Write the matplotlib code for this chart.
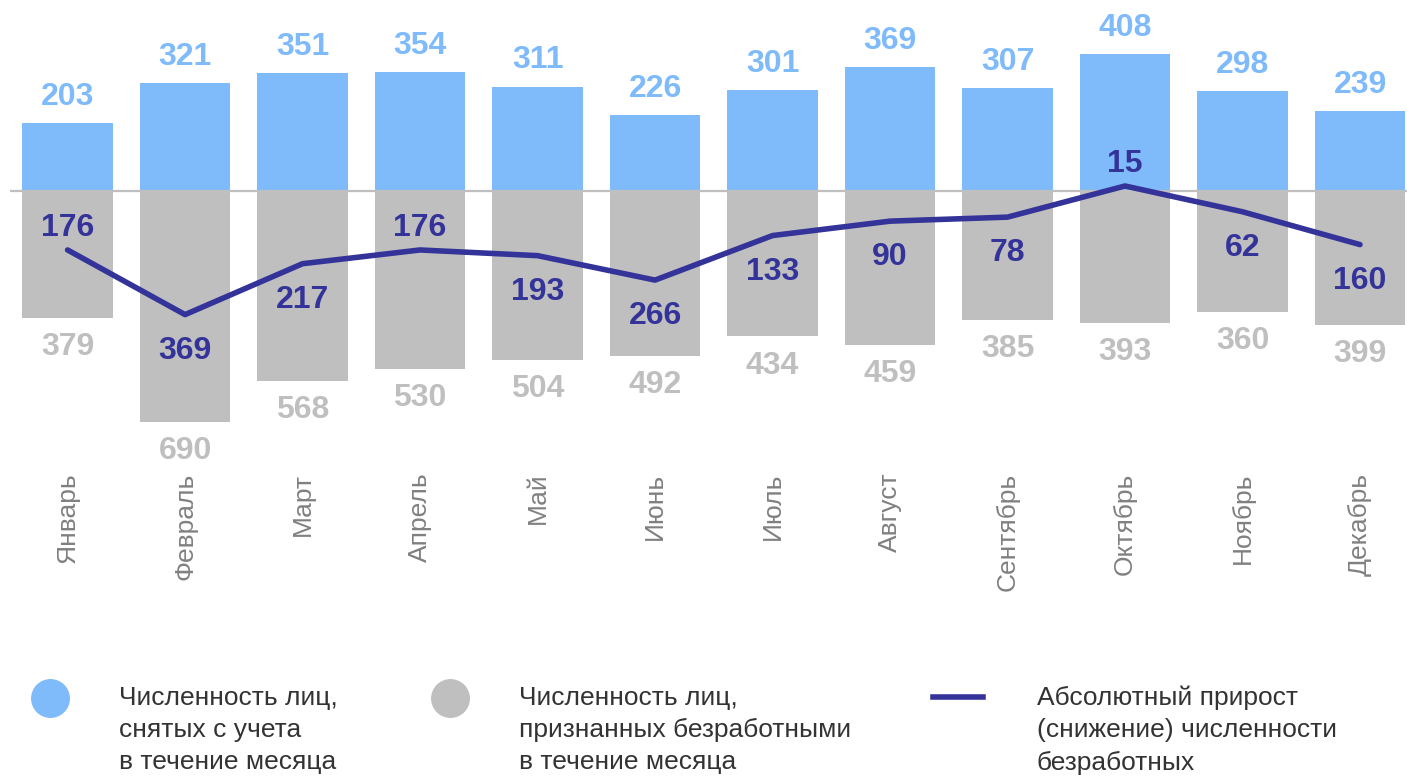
import matplotlib.pyplot as plt
from matplotlib.lines import Line2D
import numpy as np

plt.rcParams['font.family'] = ['Liberation Sans', 'DejaVu Sans']

months = ["Январь", "Февраль", "Март", "Апрель", "Май", "Июнь",
          "Июль", "Август", "Сентябрь", "Октябрь", "Ноябрь", "Декабрь"]
removed = [203, 321, 351, 354, 311, 226, 301, 369, 307, 408, 298, 239]
recognized = [379, 690, 568, 530, 504, 492, 434, 459, 385, 393, 360, 399]
# where to put the net-change label relative to the line
net_label_side = ["above", "below", "below", "above", "below", "below",
                  "below", "below", "below", "above", "below", "below"]

legend_labels = ["Численность лиц,\nснятых с учета\nв течение месяца",
                 "Численность лиц,\nпризнанных безработными\nв течение месяца",
                 "Абсолютный прирост\n(снижение) численности\nбезработных"]

blue = "#7fbafa"
gray = "#bfbfbf"
navy = "#333399"

removed = np.array(removed)
recognized = np.array(recognized)
net = removed - recognized
x = np.arange(len(months))

W, H = 1407, 776
fig = plt.figure(figsize=(W / 100, H / 100), dpi=100)
# axes: from x=10px to right edge, from top to y=470px
ax = fig.add_axes([10 / W, 1 - 470 / H, 1 - 10 / W, 470 / H])
k = 0.335  # px per unit
ax.set_ylim(-(470 - 191) / k, 191 / k)
ax.set_xlim(-0.49, 11.4)

ax.bar(x, removed, width=0.77, color=blue, zorder=2)
ax.bar(x, -recognized, width=0.77, color=gray, zorder=2)
ax.axhline(0, color=gray, lw=1.6, zorder=3)
ax.plot(x, net, color=navy, lw=4, zorder=4, solid_capstyle='round')

for i in range(len(x)):
    ax.annotate(str(removed[i]), (x[i], removed[i]), xytext=(0, 19),
                textcoords='offset points', ha='center', va='center',
                fontsize=23, fontweight='bold', color=blue)
    ax.annotate(str(recognized[i]), (x[i], -recognized[i]), xytext=(0, -21),
                textcoords='offset points', ha='center', va='center',
                fontsize=23, fontweight='bold', color=gray)
    dy = 16 if net_label_side[i] == "above" else -26
    ax.annotate(str(abs(net[i])), (x[i], net[i]), xytext=(0, dy),
                textcoords='offset points', ha='center', va='center',
                fontsize=23, fontweight='bold', color=navy, zorder=5)

ax.set_xticks(x)
ax.set_xticklabels(months, rotation=90, fontsize=19, color="#808080")
ax.tick_params(axis='x', length=0, pad=2)
ax.set_yticks([])
for s in ax.spines.values():
    s.set_visible(False)

# legend at the bottom
ly = 1 - 698 / H
fig.add_artist(Line2D([50 / W], [ly], marker='o', markersize=27,
                      color=blue, transform=fig.transFigure))
fig.add_artist(Line2D([450 / W], [ly], marker='o', markersize=27,
                      color=gray, transform=fig.transFigure))
fig.add_artist(Line2D([933 / W, 983 / W], [1 - 697 / H] * 2, lw=4,
                      color=navy, transform=fig.transFigure))
for xp, lab in zip([119, 519, 1037], legend_labels):
    fig.text(xp / W, 1 - 686 / H, lab, ha='left', va='top', fontsize=19,
             color="#333333", linespacing=1.42)

fig.savefig("out.png", dpi=100)
